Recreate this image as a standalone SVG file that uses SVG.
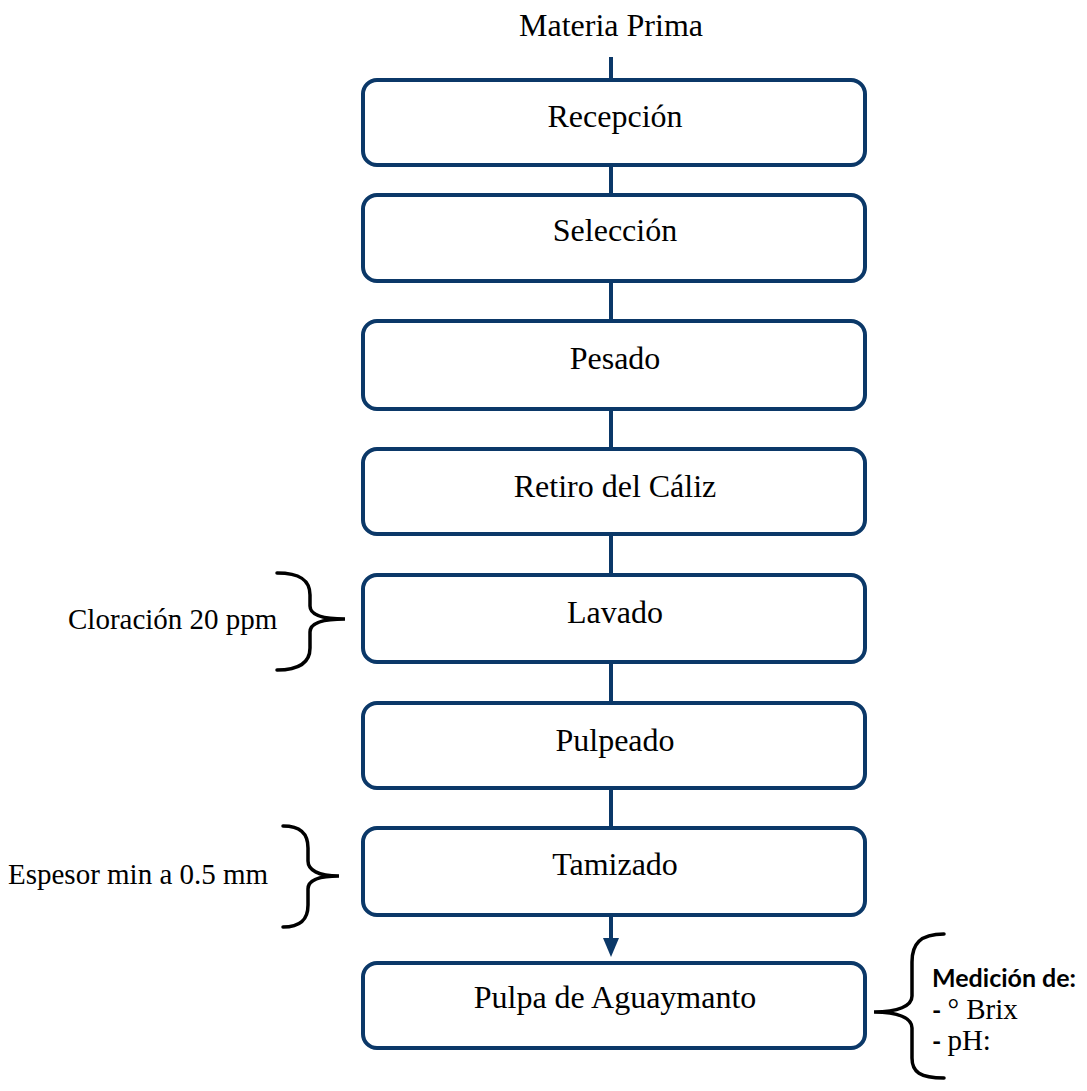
<svg xmlns="http://www.w3.org/2000/svg" width="1087" height="1091" viewBox="0 0 1087 1091">
<style>
.box{fill:#fff;stroke:#0b3868;stroke-width:4}
.con{stroke:#0b3868;stroke-width:4;fill:none}
.br{stroke:#000;stroke-width:3.5;fill:none;stroke-linecap:round}
.t{font-family:"Liberation Serif",serif;font-size:32px;fill:#000}
.s{font-size:29px}
.m{font-family:"Liberation Serif",serif;font-size:29px;fill:#000}
.c{text-anchor:middle}
.b{font-family:"Lato","DejaVu Sans",sans-serif;font-weight:bold;font-size:25px;fill:#000}
</style>
<rect width="1087" height="1091" fill="#fff"/>
<g id="connectors">
<line class="con" x1="611" y1="57" x2="611" y2="80"/>
<line class="con" x1="611" y1="165" x2="611" y2="195"/>
<line class="con" x1="611" y1="281" x2="611" y2="321"/>
<line class="con" x1="611" y1="409" x2="611" y2="449"/>
<line class="con" x1="611" y1="534" x2="611" y2="575"/>
<line class="con" x1="611" y1="662" x2="611" y2="703"/>
<line class="con" x1="611" y1="788" x2="611" y2="828"/>
<line class="con" x1="611" y1="915" x2="611" y2="940"/>
<path d="M603,938 L619,938 L611,957 Z" fill="#0b3868"/>
</g>
<g id="materia"><text class="t c" x="611" y="36">Materia Prima</text></g>
<g id="recepcion"><rect class="box" x="363" y="80" width="502" height="85" rx="14"/><text class="t c" x="615" y="127">Recepción</text></g>
<g id="seleccion"><rect class="box" x="363" y="195" width="502" height="86" rx="14"/><text class="t c" x="615" y="241">Selección</text></g>
<g id="pesado"><rect class="box" x="363" y="321" width="502" height="88" rx="14"/><text class="t c" x="615" y="369">Pesado</text></g>
<g id="retiro"><rect class="box" x="363" y="449" width="502" height="85" rx="14"/><text class="t c" x="615" y="497">Retiro del Cáliz</text></g>
<g id="lavado"><rect class="box" x="363" y="575" width="502" height="87" rx="14"/><text class="t c" x="615" y="623">Lavado</text></g>
<g id="pulpeado"><rect class="box" x="363" y="703" width="502" height="85" rx="14"/><text class="t c" x="615" y="751">Pulpeado</text></g>
<g id="tamizado"><rect class="box" x="363" y="828" width="502" height="87" rx="14"/><text class="t c" x="615" y="875">Tamizado</text></g>
<g id="pulpa"><rect class="box" x="363" y="963" width="502" height="85" rx="14"/><text class="t c" x="615" y="1008">Pulpa de Aguaymanto</text></g>
<g id="cloracion">
<text class="t s" x="68" y="629">Cloración 20 ppm</text>
<path class="br" d="M277,573 C300,573 310,580 310,595 L310,606 C310,615 322,619 345,619 C322,619 310,623 310,632 L310,648 C310,662 300,670 277,670"/>
</g>
<g id="espesor">
<text class="t s" x="8" y="884">Espesor min a 0.5 mm</text>
<path class="br" d="M283,826 C300,826 308,833 308,848 L308,861 C308,870 318,876 339,876 C318,876 308,880 308,889 L308,905 C308,920 300,927 283,927"/>
</g>
<g id="medicion">
<path class="br" d="M944,934 C920,934 912,944 912,962 L912,996 C912,1006 898,1012 874,1012 C898,1012 912,1018 912,1028 L912,1058 C912,1072 920,1078 944,1078"/>
<text class="b" x="932" y="987">Medición de:</text>
<text x="932" y="1019"><tspan class="b">- </tspan><tspan class="m">° Brix</tspan></text>
<text x="932" y="1050"><tspan class="b">- </tspan><tspan class="m">pH:</tspan></text>
</g>
</svg>
